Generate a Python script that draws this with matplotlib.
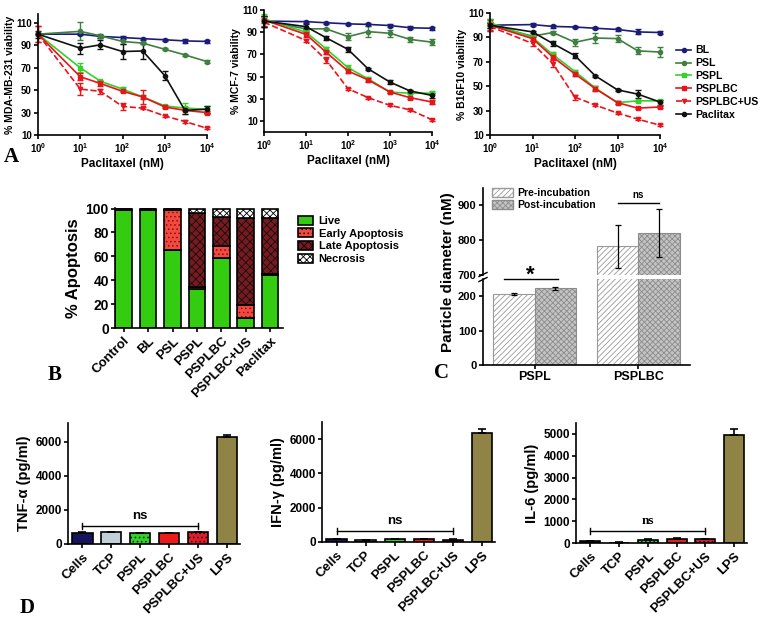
import numpy as np
import matplotlib
matplotlib.use("Agg")
import matplotlib.pyplot as plt
from matplotlib.lines import Line2D
from matplotlib.patches import Patch

plt.rcParams['font.family'] = ['Liberation Sans', 'DejaVu Sans']
plt.rcParams['font.weight'] = 'bold'
plt.rcParams['axes.labelweight'] = 'bold'
plt.rcParams['mathtext.fontset'] = 'custom'
plt.rcParams['mathtext.rm'] = 'Liberation Sans:bold'
plt.rcParams['mathtext.it'] = 'Liberation Sans:bold:italic'
plt.rcParams['mathtext.bf'] = 'Liberation Sans:bold'
plt.rcParams['mathtext.default'] = 'rm'
plt.rcParams['hatch.linewidth'] = 0.6
plt.rcParams['axes.linewidth'] = 1.2
plt.rcParams['xtick.major.width'] = 1.2
plt.rcParams['ytick.major.width'] = 1.2
plt.rcParams['xtick.major.size'] = 3
plt.rcParams['ytick.major.size'] = 3

# ---- panel A: viability vs paclitaxel concentration ----
conc = [1, 10, 30, 100, 300, 1000, 3000, 10000]
groups = ["BL", "PSL", "PSPL", "PSPLBC", "PSPLBC+US", "Paclitax"]

# rows follow `groups`
mda_mean = [[100, 100, 98, 97, 96, 95, 94, 93.5],
            [100, 102.5, 98.5, 93.5, 92, 86.5, 81.5, 75.5],
            [100, 70, 58, 51, 44, 36, 34, 33],
            [100, 62, 56, 49, 44, 35, 32, 30],
            [100, 51, 49, 35.5, 34, 27, 22, 16],
            [100, 87.5, 90.5, 84.5, 85, 63, 32, 33]]
mda_err = [[0, 1, 1, 1, 1, 1, 1.5, 1],
           [0, 8, 2, 2, 1, 1, 1, 1],
           [0, 4, 1, 2, 2, 1, 5, 3],
           [7, 3, 2, 1, 6, 1, 1, 1],
           [7, 5, 2, 3, 1, 1, 1, 1],
           [3, 5, 4, 7, 7, 4, 3, 3]]

mcf_mean = [[100, 99.5, 98.5, 97.5, 97, 96, 94, 93.5],
            [100, 93, 93, 86, 90.5, 89, 83.5, 81],
            [102, 90, 75, 58, 48, 36, 35, 35],
            [101, 88, 72, 55, 47, 36, 31, 27],
            [99, 82.5, 65, 39, 31, 24, 20, 11],
            [100, 95, 85, 74.5, 57, 45, 37, 33]]
mcf_err = [[5, 1, 1, 1, 1, 1, 1.5, 1.5],
           [5, 1, 1, 3, 5, 3, 2, 3],
           [4, 1, 2, 2, 2, 1, 1, 2],
           [3, 2, 2, 2, 2, 1, 1, 2],
           [3, 1, 3, 1, 1, 1, 1, 1],
           [5, 2, 2, 2, 1, 2, 1, 2]]

b16_mean = [[100, 100.5, 99, 98.5, 97.5, 96.5, 94.5, 94],
            [100, 91, 94, 86, 89.5, 89, 79, 78],
            [102, 90, 76, 62, 48.5, 36.5, 38, 38],
            [100, 89, 74, 60, 48, 36.5, 32, 33],
            [99, 85, 68.5, 41, 34.5, 28, 23, 18],
            [100, 94.5, 85, 75, 58.5, 47, 43.5, 37]]
b16_err = [[2, 1.5, 1, 1, 1, 1, 2, 1.5],
           [5, 1, 1, 3, 4, 3, 3, 4],
           [3, 2, 2, 1, 2, 1, 1, 1],
           [4, 2, 2, 2, 2, 1, 1, 1],
           [4, 2, 3, 2, 1, 1, 1, 1],
           [2, 1, 2, 2, 1, 1, 3, 2]]

# ---- panel B: apoptosis ----
apo_cats = ["Control", "BL", "PSL", "PSPL", "PSPLBC", "PSPLBC+US", "Paclitax"]
live = [98.5, 99, 65, 33, 59, 8, 44]
early = [0.5, 0.3, 34, 1.5, 10, 11.5, 1]
late = [0.5, 0.3, 0.5, 61.5, 24, 73, 47]
necrosis = [0.5, 0.4, 0.5, 4, 7, 7.5, 8]

# ---- panel C: particle size ----
size_cats = ["PSPL", "PSPLBC"]
pre_size = [206, 782]
pre_err = [3, 62]
post_size = [223, 821]
post_err = [4, 70]

# ---- panel D: cytokines ----
cyto_cats = ["Cells", "TCP", "PSPL", "PSPLBC", "PSPLBC+US", "LPS"]
tnf = [650, 680, 640, 630, 680, 6260]
tnf_err = [30, 30, 30, 20, 40, 120]
ifn = [150, 100, 170, 160, 140, 6350]
ifn_err = [20, 10, 20, 20, 20, 230]
il6 = [80, 20, 150, 190, 170, 4970]
il6_err = [20, 5, 20, 20, 20, 270]

W, H = 760, 618


def box(l, t, r, b):
    return [l / W, 1 - b / H, (r - l) / W, (b - t) / H]


fig = plt.figure(figsize=(W / 100, H / 100), dpi=100)

line_colors = ["#1c1c78", "#3f7f3f", "#33d12a", "#e8141c", "#e8141c", "#111111"]
line_markers = ["o", "o", "s", "s", "v", "o"]
line_styles = ["-", "-", "-", "-", "--", "-"]


def viability(rect, means, errs, ylabel, ylim):
    ax = fig.add_axes(box(*rect))
    for i in range(len(groups)):
        c = ax.errorbar(conc, means[i], yerr=errs[i], color=line_colors[i],
                        marker=line_markers[i], ms=3, lw=1.2, ls=line_styles[i],
                        capsize=2.5, elinewidth=1, capthick=1)
        for art in c.get_children():
            art.set_clip_on(False)
    ax.set_xscale("log")
    ax.set_xlim(1, 10000)
    ax.set_ylim(*ylim)
    ax.set_yticks([10, 30, 50, 70, 90, 110])
    ax.set_xticks([1, 10, 100, 1000, 10000])
    ax.set_xticklabels([r"$10^{%d}$" % k for k in range(5)])
    ax.minorticks_off()
    ax.tick_params(labelsize=7, pad=1.5)
    ax.spines["top"].set_visible(False)
    ax.spines["right"].set_visible(False)
    ax.set_xlabel("Paclitaxel (nM)", fontsize=8.5, labelpad=2)
    ax.set_ylabel(ylabel, fontsize=7.5, labelpad=1)
    return ax


viability((38, 14, 207, 135), mda_mean, mda_err, "% MDA-MB-231 viability", (10, 118))
viability((264, 10, 432, 132), mcf_mean, mcf_err, "% MCF-7 viability", (0, 110))
viability((490, 13, 660, 135), b16_mean, b16_err, "% B16F10 viability", (10, 110))

handles = [Line2D([], [], color=line_colors[i], marker=line_markers[i], ms=3,
                  ls=line_styles[i], lw=1.2) for i in range(len(groups))]
fig.legend(handles, groups, loc="upper left", bbox_to_anchor=(671 / W, 1 - 40 / H),
           frameon=False, fontsize=7.6, handlelength=1.4, handletextpad=0.4,
           labelspacing=0.28, borderpad=0)


# ---- panel B ----
def hbar(ax, x, h, bottom, face, hatch, hcolor, width, lw=1.2):
    ax.bar(x, h, width, bottom=bottom, color=face, edgecolor="none")
    if hatch:
        ax.bar(x, h, width, bottom=bottom, facecolor="none", edgecolor=hcolor,
               hatch=hatch, linewidth=0)
    ax.bar(x, h, width, bottom=bottom, facecolor="none", edgecolor="black", linewidth=lw)


axb = fig.add_axes(box(115, 208, 283, 328))
xb = np.arange(len(apo_cats))
stack = [(live, "#33cc11", None, None),
         (early, "#f24a40", "....", "#8a1010"),
         (late, "#7a1a1e", "xxxx", "#111111"),
         (necrosis, "white", "xxxxx", "#000000")]
bottom = np.zeros(len(apo_cats))
for vals, face, hatch, hc in stack:
    hbar(axb, xb, vals, bottom, face, hatch, hc, 0.68)
    bottom = bottom + np.array(vals)
axb.set_xlim(-0.36, 6.53)
axb.set_ylim(0, 100.5)
axb.set_yticks([0, 20, 40, 60, 80, 100])
axb.set_xticks(xb)
axb.set_xticklabels(apo_cats, rotation=45, ha="right", rotation_mode="anchor", fontsize=9.5)
axb.tick_params(axis="y", labelsize=10, pad=1.5)
axb.tick_params(axis="x", pad=2)
axb.spines["top"].set_visible(False)
axb.spines["right"].set_visible(False)
axb.set_ylabel("% Apoptosis", fontsize=12, labelpad=3)
leg_b = [Patch(facecolor="#33cc11", edgecolor="black", lw=1.2),
         Patch(facecolor="#f24a40", edgecolor="black", hatch="....", lw=1.2),
         Patch(facecolor="#7a1a1e", edgecolor="black", hatch="xxxx", lw=1.2),
         Patch(facecolor="white", edgecolor="black", hatch="xxxxx", lw=1.2)]
fig.legend(leg_b, ["Live", "Early Apoptosis", "Late Apoptosis", "Necrosis"],
           loc="upper left", bbox_to_anchor=(292 / W, 1 - 210 / H), frameon=False,
           fontsize=8, handlelength=1.4, handleheight=0.9, handletextpad=0.5,
           labelspacing=0.2, borderpad=0)

# ---- panel C (broken y axis) ----
axc_top = fig.add_axes(box(483, 188, 690, 275))
axc_bot = fig.add_axes(box(483, 279, 690, 365))
xc = np.arange(len(size_cats))
bw = 0.4
for ax in (axc_top, axc_bot):
    ax.bar(xc - bw / 2, pre_size, bw, facecolor="white", edgecolor="#9a9a9a",
           hatch="//////", linewidth=0.8)
    ax.bar(xc + bw / 2, post_size, bw, facecolor="#c4c4c4", edgecolor="#8c8c8c",
           hatch="xxxxxx", linewidth=0.8)
    ax.errorbar(xc - bw / 2, pre_size, yerr=pre_err, fmt="none", ecolor="black",
                elinewidth=0.9, capsize=2.5, capthick=0.9)
    ax.errorbar(xc + bw / 2, post_size, yerr=post_err, fmt="none", ecolor="black",
                elinewidth=0.9, capsize=2.5, capthick=0.9)
    ax.set_xlim(-0.5, 1.5)
    ax.spines["top"].set_visible(False)
    ax.spines["right"].set_visible(False)
    ax.tick_params(labelsize=8, pad=1.5)
axc_top.set_ylim(700, 950)
axc_top.set_yticks([700, 800, 900])
axc_top.spines["bottom"].set_visible(False)
axc_top.set_xticks([])
axc_bot.set_ylim(0, 250)
axc_bot.set_yticks([0, 100, 200])
axc_bot.set_xticks(xc)
axc_bot.set_xticklabels(size_cats, fontsize=9)
fig.text(448 / W, 1 - 272 / H, "Particle diameter (nM)", rotation=90, fontsize=11,
         fontweight="bold", ha="center", va="center")
# break marks on the y axis
for yy in (274.5, 279.5):
    fig.add_artist(Line2D([479 / W, 487 / W], [1 - (yy + 2) / H, 1 - (yy - 2) / H],
                          color="black", lw=1))
# significance marks
axc_bot.plot([-0.3, 0.22], [249, 249], color="black", lw=1, clip_on=False)
axc_bot.text(-0.04, 262, "*", fontsize=16, ha="center", va="center", clip_on=False)
axc_top.plot([0.8, 1.2], [908, 908], color="black", lw=1, clip_on=False)
axc_top.text(1.0, 915, "ns", fontsize=7, ha="center", va="bottom")
axc_top.legend([Patch(facecolor="white", edgecolor="#9a9a9a", hatch="//////"),
                Patch(facecolor="#c4c4c4", edgecolor="#8c8c8c", hatch="xxxxxx")],
               ["Pre-incubation", "Post-incubation"], loc="upper left",
               bbox_to_anchor=(0.02, 1.06), frameon=False, fontsize=7.5,
               handlelength=2.0, handleheight=1.0, handletextpad=0.4,
               labelspacing=0.15, borderpad=0)

# ---- panel D ----
cyto_faces = ["#15155c", "#c3cfd8", "#33d12a", "#ee1a1a", "#e21a2a", "#8f8446"]
cyto_hatch = [None, None, "....", None, "....", None]


def cytokine(rect, vals, errs, ylabel, ylim, yticks, ns_y, ns_d, ns_serif=False):
    ax = fig.add_axes(box(*rect))
    xd = np.arange(len(cyto_cats))
    for i in xd:
        hbar(ax, i, vals[i], 0, cyto_faces[i], cyto_hatch[i], "#111111", 0.7, lw=1.2)
    ax.errorbar(xd, vals, yerr=[np.zeros(len(errs)), errs], fmt="none", ecolor="black",
                elinewidth=1.2, capsize=3, capthick=1.2)
    ax.set_xlim(-0.5, 5.45)
    ax.set_ylim(*ylim)
    ax.set_yticks(yticks)
    ax.set_xticks(xd)
    ax.set_xticklabels(cyto_cats, rotation=45, ha="right", rotation_mode="anchor",
                       fontsize=9.5)
    ax.tick_params(axis="y", labelsize=8.5, pad=1.5)
    ax.tick_params(axis="x", pad=2)
    ax.spines["top"].set_visible(False)
    ax.spines["right"].set_visible(False)
    ax.set_ylabel(ylabel, fontsize=10.5, labelpad=3)
    ax.plot([0, 4], [ns_y, ns_y], color="black", lw=1)
    ax.plot([0, 0], [ns_y - ns_d, ns_y + ns_d], color="black", lw=1)
    ax.plot([4, 4], [ns_y - ns_d, ns_y + ns_d], color="black", lw=1)
    fam = ["Liberation Serif"] if ns_serif else None
    ax.text(2, ns_y + ns_d * 1.2, "ns", ha="center", va="bottom", fontsize=9.5,
            family=fam)
    return ax


cytokine((68, 423, 240, 544), tnf, tnf_err, "TNF-α (pg/ml)", (0, 7100),
         [0, 2000, 4000, 6000], 1070, 180)
cytokine((322, 422, 495, 542), ifn, ifn_err, "IFN-γ (pg/ml)", (0, 7000),
         [0, 2000, 4000, 6000], 650, 180)
cytokine((576, 423, 747, 543), il6, il6_err, "IL-6 (pg/ml)", (0, 5500),
         [0, 1000, 2000, 3000, 4000, 5000], 570, 140, ns_serif=True)

# panel letters
for x, y, s in [(4, 162, "A"), (48, 380, "B"), (434, 378, "C"), (20, 613, "D")]:
    fig.text(x / W, 1 - y / H, s, fontsize=15, fontweight="bold",
             family=["Liberation Serif"])

fig.savefig("out.png", dpi=100)
